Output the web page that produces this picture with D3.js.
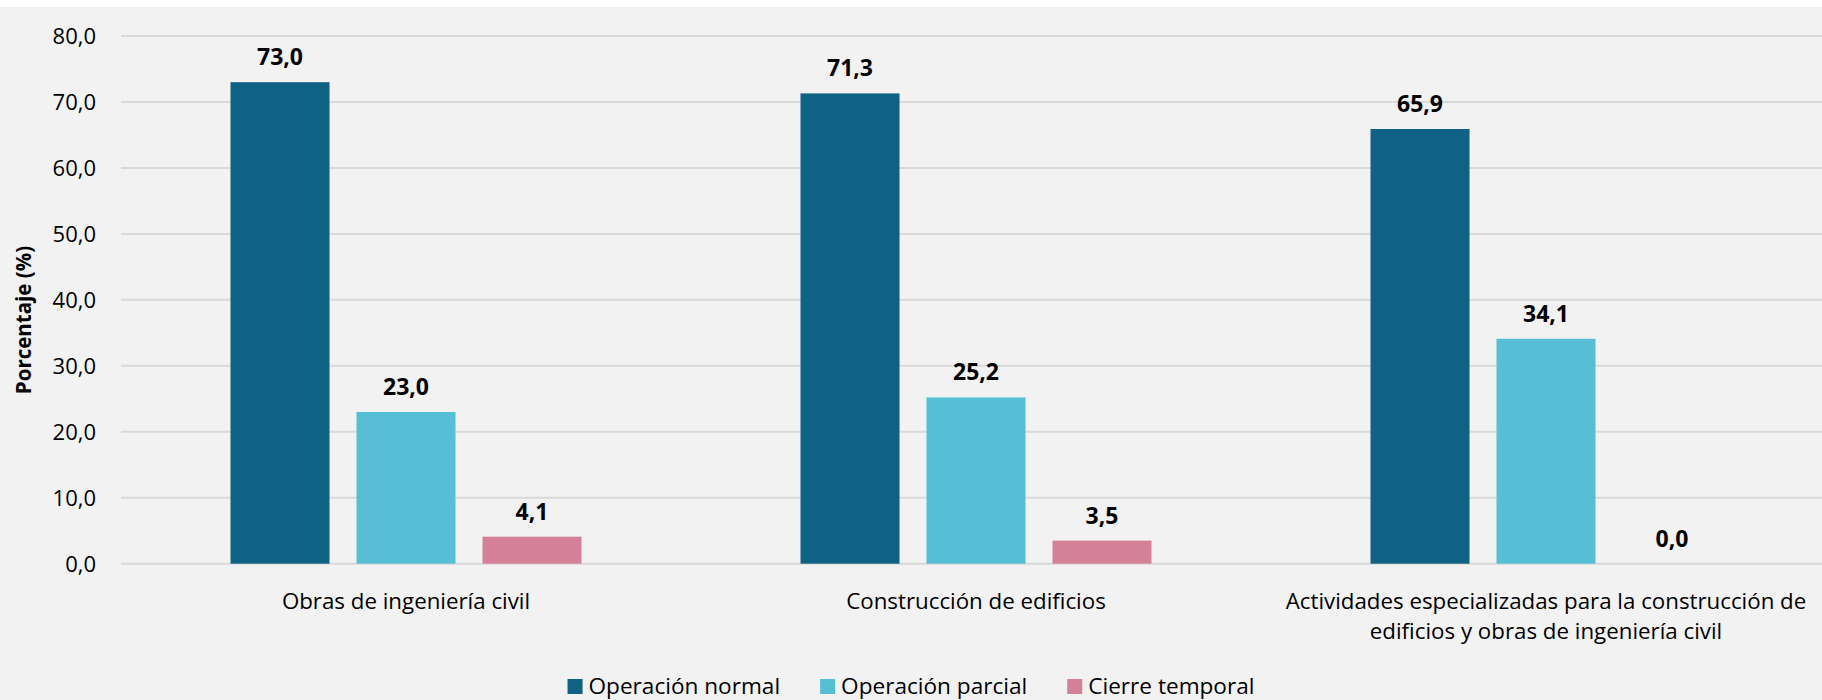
<!DOCTYPE html>
<html>
<head>
<meta charset="utf-8">
<script src="https://cdn.jsdelivr.net/npm/d3@7"></script>
<style>
  html, body { margin: 0; padding: 0; background: #ffffff; }
  svg { display: block; }
  text { font-family: "Open Sans", "Noto Sans", sans-serif; fill: #000; }
</style>
</head>
<body>
<svg id="chart" width="1822" height="700"></svg>
<script>
const categories = [
  ["Obras de ingeniería civil"],
  ["Construcción de edificios"],
  ["Actividades especializadas para la construcción de", "edificios y obras de ingeniería civil"]
];
const seriesNames = ["Operación normal", "Operación parcial", "Cierre temporal"];
const operacionNormal = [73.0, 71.3, 65.9];
const operacionParcial = [23.0, 25.2, 34.1];
const cierreTemporal = [4.1, 3.5, 0.0];
const seriesColors = ["#106285", "#56bfd6", "#d48099"];
const yTicks = [0, 10, 20, 30, 40, 50, 60, 70, 80];
const yTitle = "Porcentaje (%)";

const seriesValues = [operacionNormal, operacionParcial, cierreTemporal];
const catKeys = categories.map((c, i) => "c" + i);

const svg = d3.select("#chart");
const W = 1822, H = 700;
svg.append("rect").attr("x", 0).attr("y", 7).attr("width", W).attr("height", H - 7).attr("fill", "#f2f2f2");

const plot = { left: 121, right: 1831, top: 36, bottom: 563.7 };

const y = d3.scaleLinear().domain([0, 80]).range([plot.bottom, plot.top]);
const x0 = d3.scaleBand().domain(catKeys).range([plot.left, plot.right]).padding(0);
const x1 = d3.scaleBand().domain(seriesNames)
  .range([x0.bandwidth() * 0.1921, x0.bandwidth() * 0.8079])
  .paddingInner(0.214).paddingOuter(0);

// gridlines
const grid = svg.append("g");
grid.selectAll("line").data(yTicks).enter().append("line")
  .attr("x1", plot.left).attr("x2", W)
  .attr("y1", d => y(d)).attr("y2", d => y(d))
  .attr("stroke", "#d9d9d9").attr("stroke-width", 2);

// y axis labels
const yAxis = d3.axisLeft(y).tickValues(yTicks).tickSize(0).tickPadding(0)
  .tickFormat(d => d3.format(".1f")(d).replace(".", ","));
const yg = svg.append("g").attr("transform", `translate(${plot.left - 25},0)`).call(yAxis);
yg.select(".domain").remove();
yg.selectAll("text").attr("font-size", 22).attr("font-family", "'Open Sans', sans-serif").attr("fill", "#000").attr("dy", "0.34em");

// y title
svg.append("text")
  .attr("transform", `translate(31,320) rotate(-90)`)
  .attr("text-anchor", "middle")
  .attr("font-size", 20.5).attr("font-weight", "bold")
  .text(yTitle);

// bars
const groups = svg.selectAll("g.cat").data(catKeys).enter().append("g")
  .attr("class", "cat")
  .attr("transform", d => `translate(${x0(d)},0)`);

groups.each(function(ck, ci) {
  const g = d3.select(this);
  seriesNames.forEach((s, si) => {
    const v = seriesValues[si][ci];
    if (v > 0) {
      g.append("rect")
        .attr("x", x1(s)).attr("width", x1.bandwidth())
        .attr("y", y(v)).attr("height", y(0) - y(v))
        .attr("fill", seriesColors[si]);
    }
    g.append("text")
      .attr("x", x1(s) + x1.bandwidth() / 2)
      .attr("y", y(v) - 17)
      .attr("text-anchor", "middle")
      .attr("font-size", 23).attr("font-weight", "bold")
      .text(d3.format(".1f")(v).replace(".", ","));
  });
  const lab = g.append("text")
    .attr("x", x0.bandwidth() / 2)
    .attr("y", 609)
    .attr("text-anchor", "middle")
    .attr("font-size", 22.3);
  categories[ci].forEach((line, li) => {
    lab.append("tspan").attr("x", x0.bandwidth() / 2).attr("dy", li === 0 ? 0 : 30).text(line);
  });
});

// legend (centered)
const legend = svg.append("g");
const items = seriesNames.map((s, i) => {
  const it = legend.append("g");
  it.append("rect").attr("x", 0).attr("y", 679).attr("width", 15).attr("height", 15).attr("fill", seriesColors[i]);
  const t = it.append("text").attr("x", 21).attr("y", 694).attr("font-size", 22.6).text(s);
  return { g: it, w: 21 + t.node().getComputedTextLength() };
});
const totalW = d3.sum(items, d => d.w) + 40 * (items.length - 1);
let cx = W / 2 - totalW / 2;
items.forEach(it => { it.g.attr("transform", `translate(${cx},0)`); cx += it.w + 40; });
</script>
</body>
</html>
